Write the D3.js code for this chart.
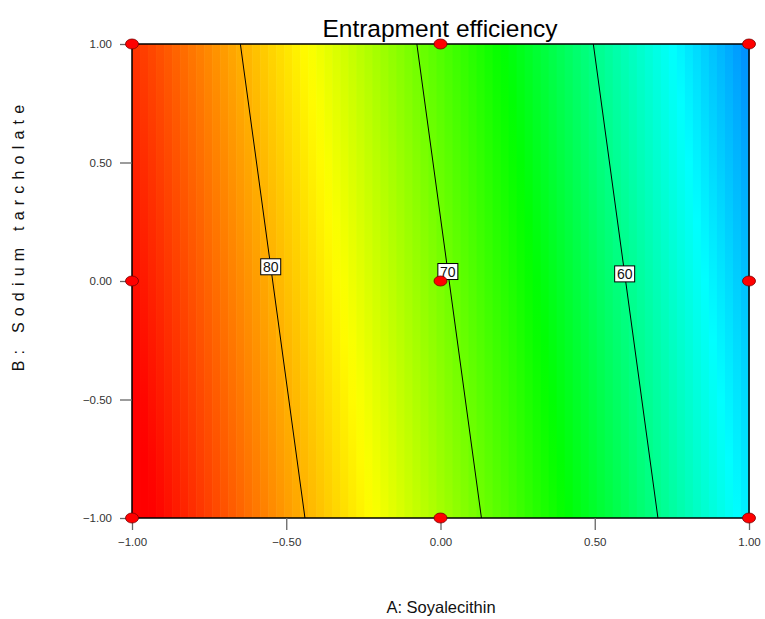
<!DOCTYPE html>
<html>
<head>
<meta charset="utf-8">
<script src="https://cdn.jsdelivr.net/npm/d3@7"></script>
<style>
  html, body { margin: 0; padding: 0; background: #fff; }
  svg { display: block; font-family: "Liberation Sans", Arial, sans-serif; }
</style>
</head>
<body>
<svg id="chart" width="765" height="619"></svg>
<script>
// Fitted linear model: EE = intercept + coefA*A + coefB*B
const intercept = 70.49;
const coefA = -17.48;
const coefB = -1.83;

// Contour levels and the B value where each label sits
const contourLevels = [80, 70, 60];
const labelB = [0.06, 0.04, 0.03];

// Design points (coded factor levels)
const designA = [-1, 0, 1, -1, 0, 1, -1, 0, 1];
const designB = [-1, -1, -1, 0, 0, 0, 1, 1, 1];

// Axis ticks
const tickValues = [-1, -0.5, 0, 0.5, 1];

// Colour ramp stops (response value -> colour)
const rampValues = [46, 55.5, 65.2, 76.2, 88.5];
const rampColors = ["#0000ff", "#00ffff", "#00ff00", "#ffff00", "#ff0000"];

const model = (a, b) => intercept + coefA * a + coefB * b;

const svg = d3.select("#chart");
const plotL = 132, plotR = 749, plotT = 44, plotB = 518;

const x = d3.scaleLinear().domain([-1, 1]).range([plotL, plotR]);
const y = d3.scaleLinear().domain([-1, 1]).range([plotB, plotT]);
const color = d3.scaleLinear().domain(rampValues).range(rampColors).clamp(true);

// Filled surface: vertical stripes, each shaded top to bottom
const nCols = 77;
const defs = svg.append("defs");
const colW = (plotR - plotL) / nCols;
const nStops = 9;
for (let i = 0; i < nCols; i++) {
  const aVal = x.invert(plotL + (i + 0.5) * colW);
  const g = defs.append("linearGradient")
    .attr("id", "col" + i)
    .attr("x1", 0).attr("y1", 0).attr("x2", 0).attr("y2", 1);
  for (let k = 0; k < nStops; k++) {
    const t = k / (nStops - 1);
    const bVal = 1 - 2 * t;
    g.append("stop").attr("offset", t).attr("stop-color", color(model(aVal, bVal)));
  }
  svg.append("rect")
    .attr("x", plotL + i * colW)
    .attr("y", plotT)
    .attr("width", colW + 0.6)
    .attr("height", plotB - plotT)
    .attr("fill", "url(#col" + i + ")");
}

// Contour lines
const aAt = (level, b) => (level - intercept - coefB * b) / coefA;
contourLevels.forEach(L => {
  svg.append("line")
    .attr("x1", x(aAt(L, 1))).attr("y1", y(1))
    .attr("x2", x(aAt(L, -1))).attr("y2", y(-1))
    .attr("stroke", "#000").attr("stroke-width", 1);
});

// Contour labels
contourLevels.forEach((L, i) => {
  const cx = x(aAt(L, labelB[i])), cy = y(labelB[i]);
  svg.append("rect")
    .attr("x", cx - 10).attr("y", cy - 8)
    .attr("width", 20).attr("height", 16)
    .attr("fill", "#fff").attr("stroke", "#000").attr("stroke-width", 1);
  svg.append("text")
    .attr("x", cx).attr("y", cy + 5)
    .attr("text-anchor", "middle")
    .attr("font-size", 14)
    .attr("fill", "#111")
    .text(L);
});

// Plot frame
svg.append("rect")
  .attr("x", plotL).attr("y", plotT)
  .attr("width", plotR - plotL).attr("height", plotB - plotT)
  .attr("fill", "none").attr("stroke", "#000").attr("stroke-width", 1.5);

// Axes
const fmt = d3.format(".2f");
const xAxis = d3.axisBottom(x).tickValues(tickValues).tickFormat(fmt).tickSize(12).tickPadding(8);
const yAxis = d3.axisLeft(y).tickValues(tickValues).tickFormat(fmt).tickSize(12).tickPadding(8);

const gx = svg.append("g").attr("transform", `translate(0,${plotB})`).call(xAxis);
const gy = svg.append("g").attr("transform", `translate(${plotL},0)`).call(yAxis);
[gx, gy].forEach(g => {
  g.select(".domain").remove();
  g.selectAll(".tick line").attr("stroke", "#666").attr("stroke-width", 1.3);
  g.selectAll(".tick text").attr("fill", "#333").attr("font-size", 11.5)
    .attr("font-family", "'Liberation Sans', Arial, sans-serif");
});

// Design points
designA.forEach((a, i) => {
  svg.append("ellipse")
    .attr("cx", x(a)).attr("cy", y(designB[i]))
    .attr("rx", 6.5).attr("ry", 5)
    .attr("fill", "#ff0000").attr("stroke", "#700").attr("stroke-width", 0.8);
});

// Titles
svg.append("text")
  .attr("x", 440).attr("y", 37)
  .attr("text-anchor", "middle")
  .attr("font-size", 24.5)
  .attr("fill", "#000")
  .text("Entrapment efficiency");

svg.append("text")
  .attr("x", 441).attr("y", 613)
  .attr("text-anchor", "middle")
  .attr("font-size", 16.5)
  .attr("fill", "#111")
  .text("A: Soyalecithin");

svg.append("text")
  .attr("transform", "translate(24,235) rotate(-90)")
  .attr("text-anchor", "middle")
  .attr("font-size", 16)
  .attr("letter-spacing", 6.2)
  .attr("fill", "#111")
  .text("B: Sodium tarcholate");
</script>
</body>
</html>
